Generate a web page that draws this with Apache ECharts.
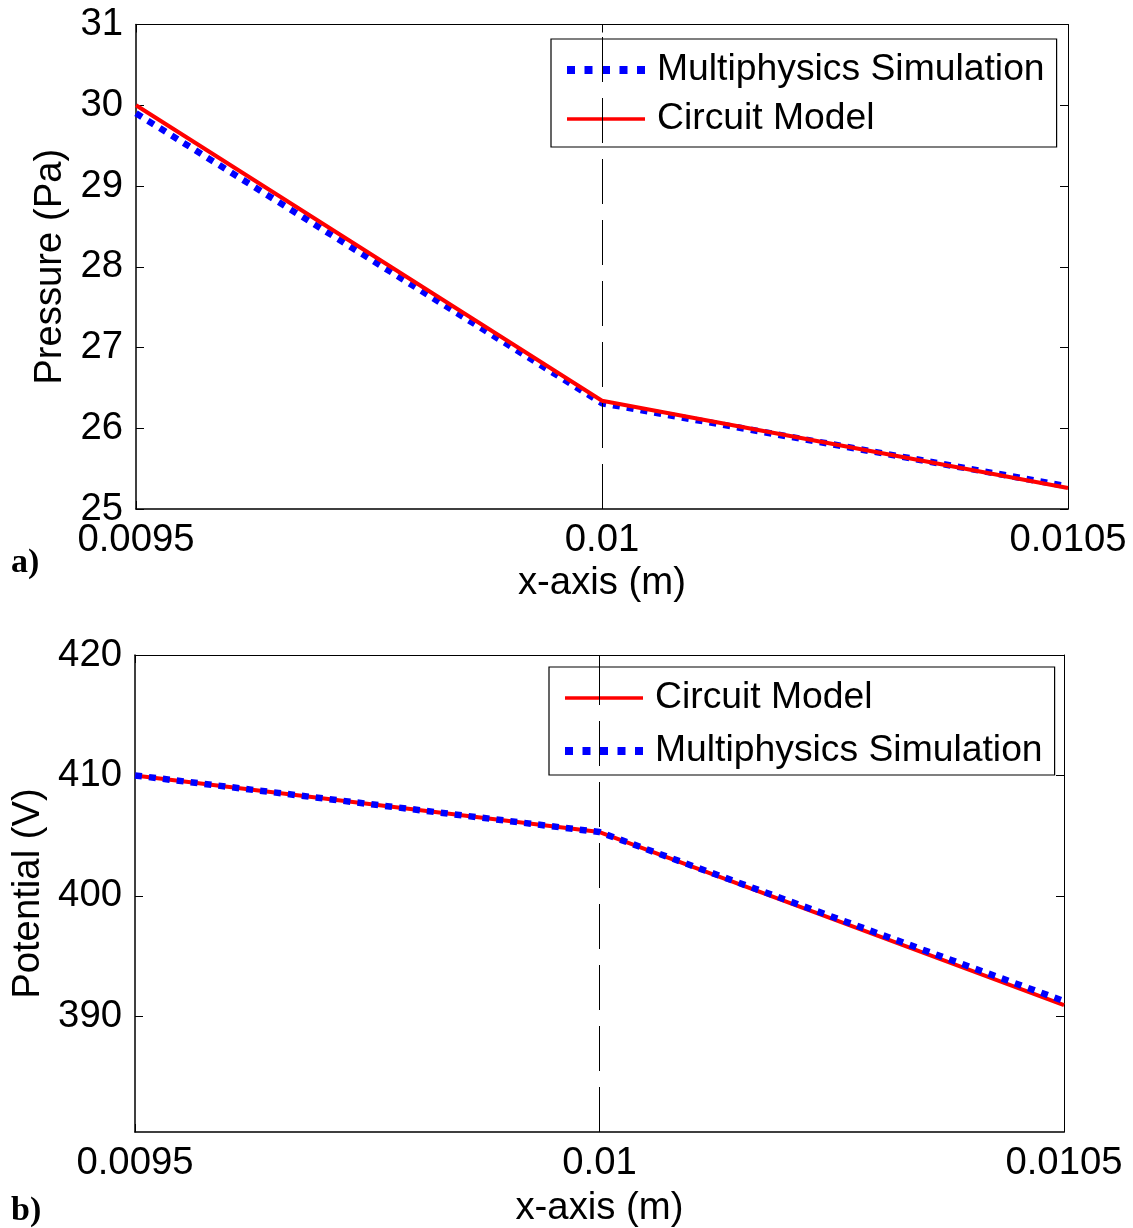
<!DOCTYPE html>
<html>
<head>
<meta charset="utf-8">
<script src="https://cdn.jsdelivr.net/npm/echarts@6/dist/echarts.min.js"></script>
<style>
html,body{margin:0;padding:0;background:#fff;}
#chart{width:1133px;height:1228px;}
</style>
</head>
<body>
<div id="chart"></div>
<script>
// ---- data ----
const xValues = [0.0095, 0.01, 0.0105];
const xTickLabels = ['0.0095', '0.01', '0.0105'];
const pressureSim = [29.9, 26.31, 25.28];
const pressureCircuit = [30.0, 26.34, 25.26];
const potentialCircuit = [410.0, 405.3, 390.93];
const potentialSim = [410.0, 405.3, 391.27];
const pressureTicks = [25, 26, 27, 28, 29, 30, 31];
const potentialTicks = [390, 400, 410, 420];
const xTicks = [0.0095, 0.01, 0.0105];

const FONT = "'Liberation Sans', Arial, sans-serif";
const AXFS = 38.3;
const LGFS = 37.3;
const SIM = 'Multiphysics Simulation';
const CIR = 'Circuit Model';

function pairs(xs, ys) { return xs.map((x, i) => [x, ys[i]]); }
function xLabel(v) {
  for (let i = 0; i < xTicks.length; i++) if (Math.abs(v - xTicks[i]) < 1e-9) return xTickLabels[i];
  return '';
}

function xAxisMain(gridIndex, nameGap) {
  return {
    type: 'value', gridIndex: gridIndex, position: 'bottom',
    min: 0.0095, max: 0.0105,
    name: 'x-axis (m)', nameLocation: 'middle', nameGap: nameGap,
    nameTextStyle: { fontFamily: FONT, fontSize: AXFS, color: '#000' },
    axisLine: { show: true, onZero: false, lineStyle: { color: '#000', width: 1.5 } },
    axisTick: { show: true, inside: true, length: 8, customValues: xTicks, lineStyle: { color: '#000' } },
    axisLabel: { show: true, customValues: xTicks, formatter: xLabel, margin: 12,
      fontFamily: FONT, fontSize: AXFS, color: '#000' },
    splitLine: { show: false }
  };
}
function xAxisTop(gridIndex) {
  return {
    type: 'value', gridIndex: gridIndex, position: 'top',
    min: 0.0095, max: 0.0105,
    axisLine: { show: true, onZero: false, lineStyle: { color: '#000', width: 1 } },
    axisTick: { show: true, inside: true, length: 8, customValues: xTicks, lineStyle: { color: '#000' } },
    axisLabel: { show: false },
    splitLine: { show: false }
  };
}
function yAxisMain(gridIndex, min, max, ticks, name, nameGap) {
  return {
    type: 'value', gridIndex: gridIndex, position: 'left',
    min: min, max: max,
    name: name, nameLocation: 'middle', nameGap: nameGap,
    nameTextStyle: { fontFamily: FONT, fontSize: AXFS, color: '#000' },
    axisLine: { show: true, onZero: false, lineStyle: { color: '#000', width: 1.5 } },
    axisTick: { show: true, inside: true, length: 8, customValues: ticks, lineStyle: { color: '#000' } },
    axisLabel: { show: true, customValues: ticks, margin: 13,
      fontFamily: FONT, fontSize: AXFS, color: '#000' },
    splitLine: { show: false }
  };
}
function yAxisRight(gridIndex, min, max, ticks) {
  return {
    type: 'value', gridIndex: gridIndex, position: 'right',
    min: min, max: max,
    axisLine: { show: true, onZero: false, lineStyle: { color: '#000', width: 1 } },
    axisTick: { show: true, inside: true, length: 8, customValues: ticks, lineStyle: { color: '#000' } },
    axisLabel: { show: false },
    splitLine: { show: false }
  };
}

const simStyle = { color: '#0000ff', width: 6.5, type: [7, 7] };
const cirStyle = { color: '#ff0000', width: 4, type: 'solid' };
const vLine = { color: '#000', width: 1, type: [45, 16] };

const SIM_ICON = 'path://M0,0h8v8h-8z M17.5,0h8v8h-8z M35,0h8v8h-8z M52.5,0h8v8h-8z M70,0h8v8h-8z';
const CIR_ICON = 'path://M0,0h78v3.5h-78z';
function legendItem(name) {
  return name === SIM
    ? { name: SIM, icon: SIM_ICON, itemStyle: { color: '#0000ff' } }
    : { name: CIR, icon: CIR_ICON, itemStyle: { color: '#ff0000' } };
}

function legendOf(names, top, left, padding, gap) {
  return {
    show: true, orient: 'vertical', left: left, top: top,
    data: names.map(legendItem),
    itemWidth: 78, itemHeight: 14, itemGap: gap,
    padding: padding,
    borderColor: '#000', borderWidth: 1.2, backgroundColor: '#fff',
    textStyle: { fontFamily: FONT, fontSize: LGFS, color: '#000', lineHeight: 40, padding: [0, 0, 0, 7] },
    selectedMode: false
  };
}

const option = {
  animation: false,
  backgroundColor: '#fff',
  grid: [
    { left: 136, top: 24.5, width: 932, height: 484.5 },
    { left: 135, top: 655, width: 929, height: 479 }
  ],
  xAxis: [xAxisMain(0, 55), xAxisTop(0), xAxisMain(1, 57), xAxisTop(1)],
  yAxis: [
    yAxisMain(0, 25, 31, pressureTicks, 'Pressure (Pa)', 67),
    yAxisRight(0, 25, 31, pressureTicks),
    yAxisMain(1, 380.4, 420, potentialTicks, 'Potential (V)', 88),
    yAxisRight(1, 380.4, 420, potentialTicks)
  ],
  legend: [
    legendOf([SIM, CIR], 39, 551, [11, 12, 8, 16], 9),
    legendOf([CIR, SIM], 667, 549, [11, 12, 4, 16], 13)
  ],
  series: [
    { name: SIM, type: 'line', xAxisIndex: 0, yAxisIndex: 0, symbol: 'none', showSymbol: false,
      data: pairs(xValues, pressureSim), lineStyle: simStyle, itemStyle: { color: '#0000ff' },
      markLine: { silent: true, symbol: 'none', label: { show: false }, lineStyle: vLine,
        data: [{ xAxis: 0.01 }] } },
    { name: CIR, type: 'line', xAxisIndex: 0, yAxisIndex: 0, symbol: 'none', showSymbol: false,
      data: pairs(xValues, pressureCircuit), lineStyle: cirStyle, itemStyle: { color: '#ff0000' } },
    { name: CIR, type: 'line', xAxisIndex: 2, yAxisIndex: 2, symbol: 'none', showSymbol: false,
      data: pairs(xValues, potentialCircuit), lineStyle: cirStyle, itemStyle: { color: '#ff0000' },
      markLine: { silent: true, symbol: 'none', label: { show: false }, lineStyle: vLine,
        data: [{ xAxis: 0.01 }, { xAxis: 0.0105 }] } },
    { name: SIM, type: 'line', xAxisIndex: 2, yAxisIndex: 2, symbol: 'none', showSymbol: false,
      data: pairs(xValues, potentialSim), lineStyle: simStyle, itemStyle: { color: '#0000ff' } }
  ],
  graphic: [
    { type: 'text', left: 11, top: 546, style: { text: 'a)', font: "bold 34px 'Liberation Serif', 'Times New Roman', serif", fill: '#000' } },
    { type: 'text', left: 11, top: 1194, style: { text: 'b)', font: "bold 34px 'Liberation Serif', 'Times New Roman', serif", fill: '#000' } }
  ]
};

const chart = echarts.init(document.getElementById('chart'), null, { renderer: 'canvas' });
chart.setOption(option);
</script>
</body>
</html>
